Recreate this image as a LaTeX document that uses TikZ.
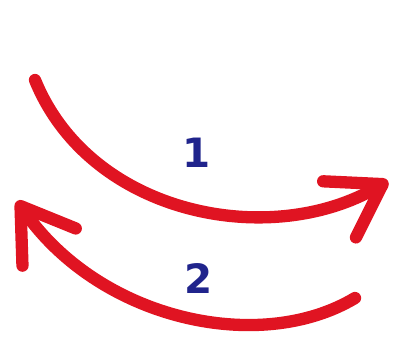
\documentclass[tikz,border=0pt]{standalone}
\usepackage{fontspec}
\setmainfont{DejaVu Sans}
\usetikzlibrary{arrows.meta}
\definecolor{scarlet}{RGB}{224,20,34}
\definecolor{navy}{RGB}{32,36,140}
\tikzset{
  bend arrow/.style={draw=#1,line width=7pt,line cap=round,
    -{Straight Barb[length=10mm,width=13mm,round]}},
  bend arrow/.default=scarlet,
  num/.style={font=\fontsize{23}{23}\selectfont\bfseries,text=navy},
}

\begin{document}
\begin{tikzpicture}[x=0.02cm,y=-0.02cm]
  \useasboundingbox (0,0) rectangle (395,336);
  % ends of the two arrows
  \coordinate (s1) at (35,80);
  \coordinate (e1) at (388,181);
  \coordinate (s2) at (355,298);
  \coordinate (e2) at (17,201);
  % labels
  \node[num] (one) at (197,153) {1};
  \node[num] (two) at (199,278) {2};
  % arrows
  \draw[bend arrow] (s1) .. controls (90,215) and (270,250) .. (e1);
  \draw[bend arrow] (s2) .. controls (260,355) and (100,320) .. (e2);
\end{tikzpicture}
\end{document}
